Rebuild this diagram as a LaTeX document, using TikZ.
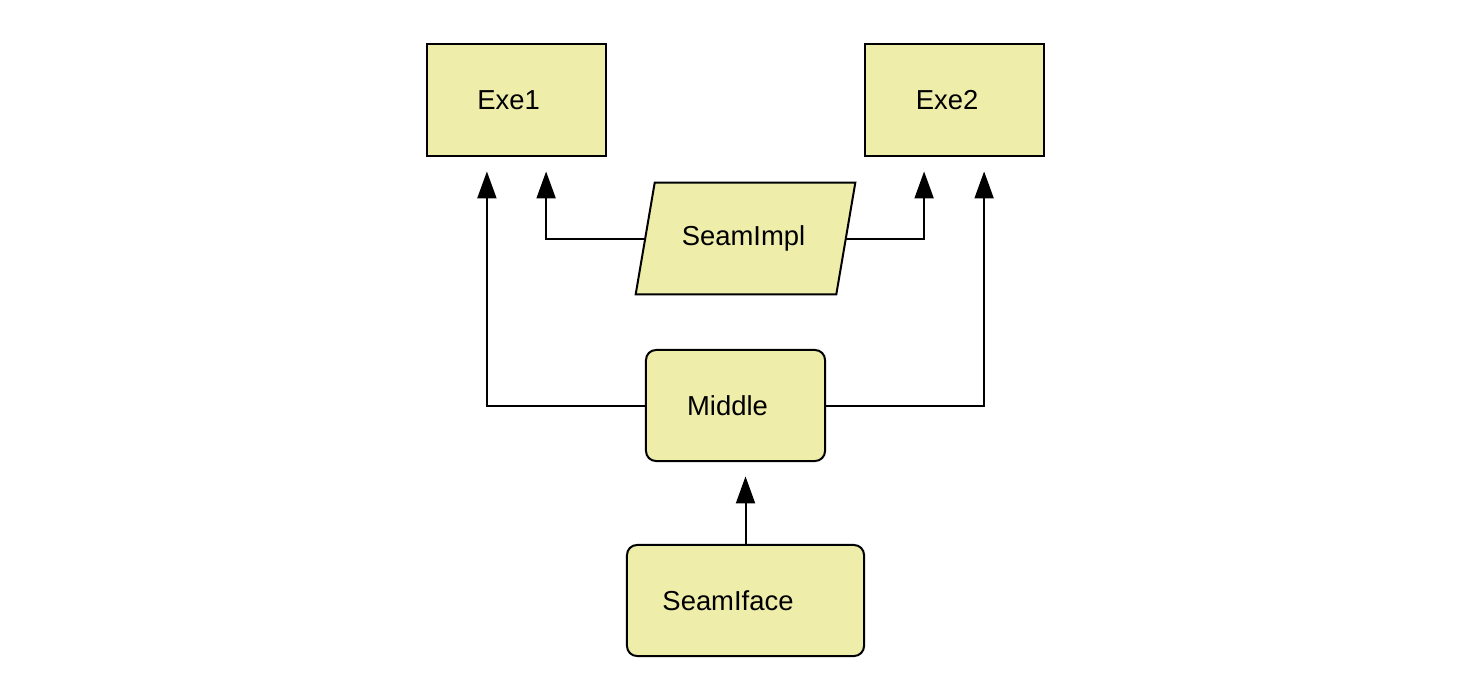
\documentclass[tikz,border=0pt]{standalone}
\usepackage{fontspec}
\setmainfont{Liberation Sans}
\usetikzlibrary{arrows.meta,positioning,backgrounds}
\definecolor{boxfill}{RGB}{238,237,170}
\tikzset{every picture/.style={/utils/exec={\fontsize{19.5}{23}\selectfont}}}

\begin{document}
\begin{tikzpicture}[x=0.025cm,y=-0.025cm]
  \tikzstyle{exe} = [rectangle, draw=black, fill=boxfill, line width=0.05cm,
                     minimum width=4.475cm, minimum height=2.8cm, inner sep=0pt]
  \tikzstyle{module} = [exe, rounded corners=0.25cm, minimum height=2.775cm]
  \tikzstyle{impl} = [rectangle, draw=none, minimum width=5cm, minimum height=2.775cm,
                      inner sep=0pt]
  \tikzstyle{slanted} = [draw=black, fill=boxfill, line width=0.05cm]

  \tikzstyle{arrow} = [-{Triangle[length=0.675cm,width=0.475cm]}, line width=0.05cm,
                       shorten >=0.36cm]

  \useasboundingbox (0,0) rectangle (1464,691);

  \node (exe1) [exe] at (516.5,100) {Exe1\kern0.4cm};
  \node (exe2) [exe] at (954.5,100) {Exe2\kern0.375cm};
  \node (seamimpl) [impl] at (745.5,238.5) {SeamImpl\kern0.1cm};
  \node (middle) [module] at (735.5,405.5) {Middle\kern0.4cm};
  \node (seamiface) [module, minimum width=5.925cm] at (745.5,600.5) {SeamIface\kern0.875cm};

  % parallelogram behind the SeamImpl text
  \begin{scope}[on background layer]
    \filldraw [slanted] ([xshift=0.2375cm]seamimpl.north west) -- ([xshift=0.2375cm]seamimpl.north east)
      -- ([xshift=-0.2375cm]seamimpl.south east) -- ([xshift=-0.2375cm]seamimpl.south west) -- cycle;
  \end{scope}

  % horizontal then vertical
  \draw [arrow] (seamimpl.west) -| ([xshift=0.74cm]exe1.south);
  \draw [arrow] (seamimpl.east) -| ([xshift=-0.76cm]exe2.south);
  \draw [arrow] (middle.west) -| ([xshift=-0.74cm]exe1.south);
  \draw [arrow] (middle.east) -| ([xshift=0.74cm]exe2.south);
  \draw [arrow] (seamiface.north) -- (seamiface.north |- middle.south);
\end{tikzpicture}
\end{document}
